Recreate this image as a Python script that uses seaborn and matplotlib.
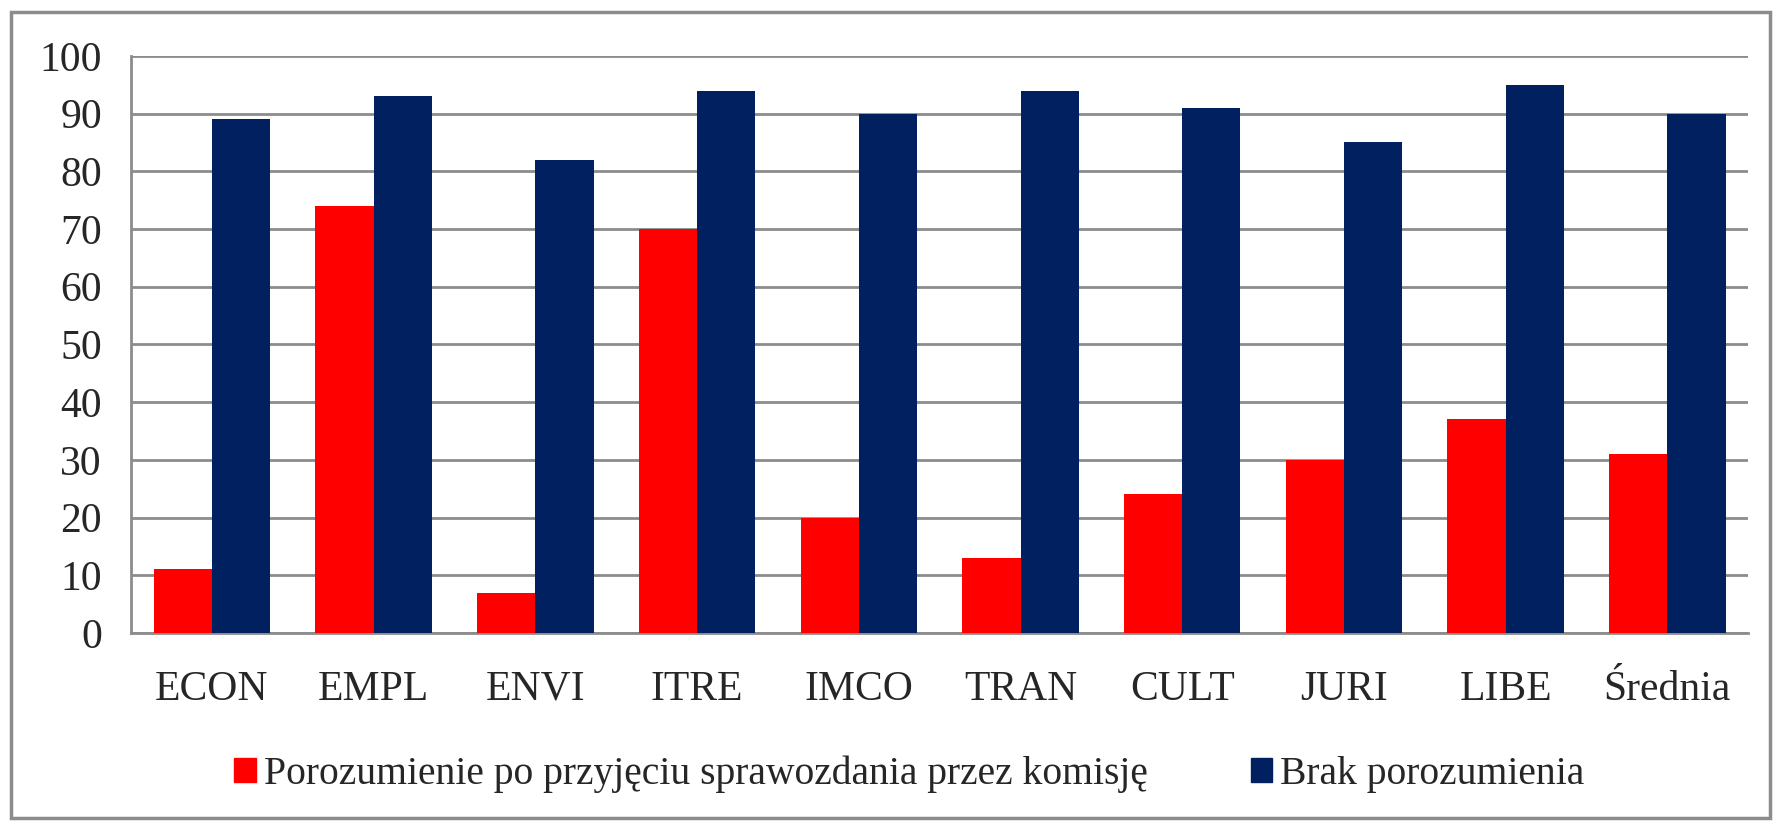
import matplotlib
matplotlib.use("Agg")
import matplotlib.pyplot as plt
import matplotlib.patches as mpatches
import numpy as np
import pandas as pd
import seaborn as sns

categories = ["ECON", "EMPL", "ENVI", "ITRE", "IMCO", "TRAN", "CULT", "JURI", "LIBE", "Średnia"]
porozumienie = [11, 74, 7, 70, 20, 13, 24, 30, 37, 31]
brak = [89, 93, 82, 94, 90, 94, 91, 85, 95, 90]
series_names = ["Porozumienie po przyjęciu sprawozdania przez komisję", "Brak porozumienia"]
colors = ["#FF0000", "#002060"]
y_ticks = list(range(0, 101, 10))

df = pd.DataFrame({
    "komisja": categories * 2,
    "seria": [series_names[0]] * len(categories) + [series_names[1]] * len(categories),
    "wartosc": porozumienie + brak,
})

sns.set_style("white")
plt.rcParams["font.family"] = ["Liberation Serif", "DejaVu Serif"]

fig = plt.figure(figsize=(17.83, 8.22), dpi=100)
ax = fig.add_axes([0.0735, 0.230, 0.907, 0.702])

sns.barplot(data=df, x="komisja", y="wartosc", hue="seria", palette=colors,
            width=0.72, gap=0, saturation=1, ax=ax, legend=False, zorder=3,
            linewidth=0)

ax.set_ylim(0, 100)
ax.set_xlim(-0.5, len(categories) - 0.5)
ax.set_yticks(y_ticks)
ax.set_yticklabels([str(t) for t in y_ticks], fontsize=30)
ax.set_xticks(range(len(categories)))
ax.set_xticklabels(categories, fontsize=30)
ax.set_xlabel("")
ax.set_ylabel("")

# category boundary ticks
ax.set_xticks(np.arange(-0.5, len(categories), 1), minor=True)
ax.tick_params(axis="x", which="major", length=0, pad=27)
ax.tick_params(axis="x", which="minor", length=13, width=2, color="#8c8c8c", direction="out")
ax.tick_params(axis="y", length=0, pad=21)

ax.yaxis.grid(True, color="#8c8c8c", linewidth=2)
ax.set_axisbelow(True)
for side in ["top", "right"]:
    ax.spines[side].set_visible(False)
for side in ["left", "bottom"]:
    ax.spines[side].set_color("#8c8c8c")
    ax.spines[side].set_linewidth(2)

handles = [mpatches.Patch(color=c, label=n) for c, n in zip(colors, series_names)]
fig.legend(handles=handles, loc="center", bbox_to_anchor=(0.510, 0.058), ncol=2,
           frameon=False, fontsize=28.5, handlelength=0.55, handleheight=0.55,
           handletextpad=0.2, columnspacing=2.6)

# outer chart frame
fig.patches.append(mpatches.Rectangle((11 / 1783, 4 / 822), 1759 / 1783, 806 / 822,
                                      transform=fig.transFigure, fill=False,
                                      edgecolor="#8c8c8c", linewidth=2.5))

fig.savefig("out.png", dpi=100)
